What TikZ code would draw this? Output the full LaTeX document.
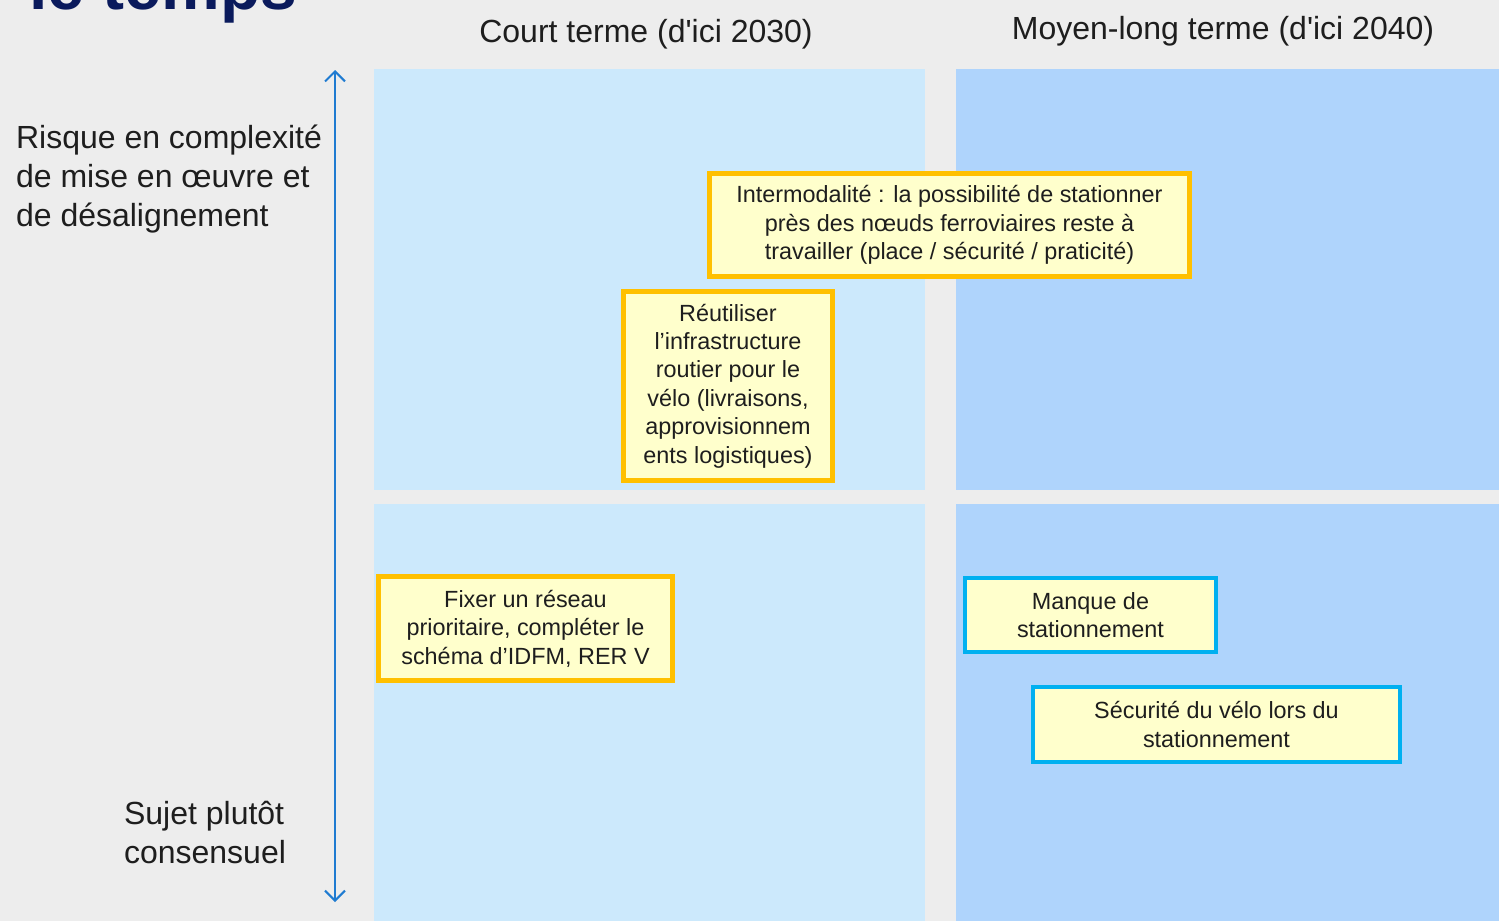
\documentclass[tikz,border=0pt]{standalone}
\usepackage{fontspec}
\setmainfont{Liberation Sans}
\usepackage{xcolor}
\usepackage{tikz}
\usetikzlibrary{positioning,arrows.meta}
\definecolor{bggray}{HTML}{EDEDED}
\definecolor{shortblue}{HTML}{CCE9FC}
\definecolor{longblue}{HTML}{AFD4FC}
\definecolor{noteyellow}{HTML}{FFFFCC}
\definecolor{noteorange}{HTML}{FFC000}
\definecolor{notecyan}{HTML}{00B0F0}
\definecolor{axisblue}{HTML}{1F7BD1}
\definecolor{titlenavy}{HTML}{0A1A5C}
\definecolor{inkdark}{HTML}{1E1E1E}

\begin{document}
\begin{tikzpicture}[x=0.5pt,y=-0.5pt]\tikzset{
panel/.style={fill=#1,draw=none},
note/.style={draw=#1,fill=noteyellow,align=center,inner sep=0pt,
  text=inkdark,font=\fontsize{11.7}{14.2}\selectfont},
warn/.style={note=noteorange,line width=2.5pt},
calm/.style={note=notecyan,line width=2pt},
colhead/.style={text=inkdark,font=\fontsize{16}{19.5}\selectfont},
sidelabel/.style={anchor=west,align=left,text=inkdark,font=\fontsize{16}{19.5}\selectfont}}
\useasboundingbox (0,0) rectangle (1499,921);
\clip (0,0) rectangle (1499,921);
\fill[bggray] (0,0) rectangle (1499,921);
\node[anchor=base west,inner sep=0pt,text=titlenavy,font=\fontsize{33}{40}\selectfont\bfseries] (title) at (29,10) {le temps};
% quadrants
\fill[panel=shortblue] (374,69) rectangle (925,490);
\fill[panel=shortblue] (374,504) rectangle (925,921);
\fill[panel=longblue] (956,69) rectangle (1499,490);
\fill[panel=longblue] (956,504) rectangle (1499,921);
\node[colhead] (court) at (646,34) {Court terme (d\textquotesingle ici 2030)};
\node[colhead] (moyen) at (1223,31) {Moyen-long terme (d\textquotesingle ici 2040)};
% axis
\coordinate (axtop) at (335,70);
\coordinate (axbot) at (335,902);
\draw[axisblue,line width=1pt,{Straight Barb[length=5pt,width=10pt]}-{Straight Barb[length=5pt,width=10pt]}] (axtop) -- (axbot);
\node[sidelabel] (risque) at (9,179) {Risque en complexité\\de mise en œuvre et\\de désalignement};
\node[sidelabel] (sujet) at (117,832) {Sujet plutôt\\consensuel};
% notes
\node[warn,minimum width=240pt,minimum height=51.5pt] (intermod) at (949.5,225)
  {Intermodalité : la possibilité de stationner\\près des nœuds ferroviaires reste à\\travailler (place / sécurité / praticité)};
\node[warn,minimum width=104.5pt,minimum height=94.5pt] (reutil) at (728,386)
  {Réutiliser\\l’infrastructure\\routier pour le\\vélo (livraisons,\\approvisionnem\\ents logistiques)};
\node[warn,minimum width=147pt,minimum height=52pt] (fixer) at (525.5,628.5)
  {Fixer un réseau\\prioritaire, compléter le\\schéma d’IDFM, RER V};
\node[calm,minimum width=125.5pt,minimum height=37pt] (manque) at (1090.5,615)
  {Manque de\\stationnement};
\node[calm,minimum width=183.5pt,minimum height=37.5pt] (securite) at (1216.5,724.5)
  {Sécurité du vélo lors du\\stationnement};
\end{tikzpicture}
\end{document}
